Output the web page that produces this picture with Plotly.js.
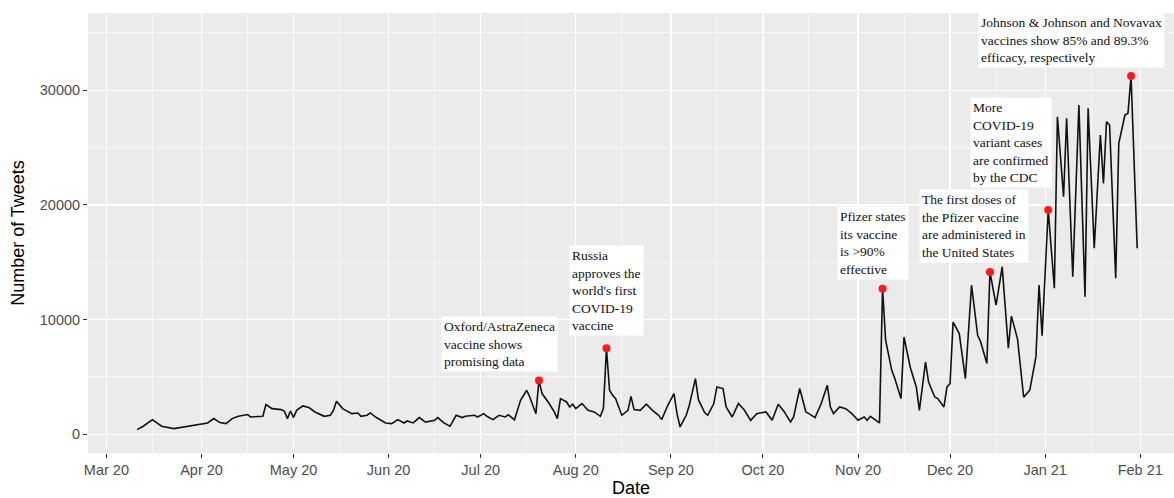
<!DOCTYPE html>
<html>
<head>
<meta charset="utf-8">
<script src="https://cdn.plot.ly/plotly-3.0.1.min.js"></script>
<style>html,body{margin:0;padding:0;background:#fff;}#chart{width:1174px;height:498px;}</style>
</head>
<body>
<div id="chart"></div>
<script>
const dates = [
'2020-03-11','2020-03-13','2020-03-16','2020-03-19','2020-03-23','2020-03-27','2020-03-31',
'2020-04-03','2020-04-05','2020-04-07','2020-04-09','2020-04-11','2020-04-13','2020-04-16','2020-04-17','2020-04-19','2020-04-21','2020-04-22','2020-04-24','2020-04-27','2020-04-28','2020-04-29','2020-04-30',
'2020-05-01','2020-05-02','2020-05-04','2020-05-06','2020-05-08','2020-05-11','2020-05-13','2020-05-14','2020-05-15','2020-05-17','2020-05-18','2020-05-20','2020-05-22','2020-05-23','2020-05-25','2020-05-26','2020-05-28','2020-05-31',
'2020-06-02','2020-06-04','2020-06-06','2020-06-07','2020-06-09','2020-06-11','2020-06-13','2020-06-16','2020-06-17','2020-06-19','2020-06-21','2020-06-23','2020-06-25','2020-06-26','2020-06-29','2020-06-30',
'2020-07-02','2020-07-03','2020-07-05','2020-07-07','2020-07-09','2020-07-10','2020-07-12','2020-07-14','2020-07-16','2020-07-17','2020-07-19','2020-07-20','2020-07-21','2020-07-23','2020-07-25','2020-07-26','2020-07-27','2020-07-29','2020-07-30','2020-07-31',
'2020-08-01','2020-08-03','2020-08-05','2020-08-07','2020-08-09','2020-08-10','2020-08-11','2020-08-12','2020-08-13','2020-08-14','2020-08-16','2020-08-18','2020-08-19','2020-08-20','2020-08-22','2020-08-24','2020-08-26','2020-08-28','2020-08-29','2020-08-31',
'2020-09-02','2020-09-03','2020-09-04','2020-09-06','2020-09-07','2020-09-09','2020-09-10','2020-09-12','2020-09-13','2020-09-15','2020-09-16','2020-09-18','2020-09-19','2020-09-21','2020-09-23','2020-09-25','2020-09-27','2020-09-29',
'2020-10-02','2020-10-04','2020-10-06','2020-10-08','2020-10-10','2020-10-11','2020-10-13','2020-10-15','2020-10-16','2020-10-18','2020-10-20','2020-10-22','2020-10-23','2020-10-24','2020-10-26','2020-10-28','2020-10-30',
'2020-11-01','2020-11-03','2020-11-04','2020-11-05','2020-11-07','2020-11-08','2020-11-09','2020-11-10','2020-11-12','2020-11-13','2020-11-15','2020-11-16','2020-11-18','2020-11-20','2020-11-21','2020-11-23','2020-11-24','2020-11-26','2020-11-27','2020-11-29','2020-11-30',
'2020-12-01','2020-12-02','2020-12-04','2020-12-06','2020-12-08','2020-12-10','2020-12-11','2020-12-13','2020-12-14','2020-12-16','2020-12-18','2020-12-20','2020-12-21','2020-12-23','2020-12-25','2020-12-27','2020-12-29','2020-12-30','2020-12-31',
'2021-01-02','2021-01-04','2021-01-05','2021-01-07','2021-01-08','2021-01-10','2021-01-12','2021-01-14','2021-01-15','2021-01-17','2021-01-19','2021-01-20','2021-01-21','2021-01-22','2021-01-24','2021-01-25','2021-01-27','2021-01-28','2021-01-29','2021-01-30','2021-01-31'
];
const tweets = [
410,700,1280,700,500,700,850,
990,1370,1020,930,1370,1570,1720,1510,1510,1570,2590,2240,2150,2030,1370,2030,
1460,2090,2470,2330,1950,1570,1660,2090,2880,2240,2090,1800,1860,1570,1660,1860,1460,990,
930,1280,990,1160,990,1460,1070,1220,1460,990,700,1660,1460,1570,1660,1510,
1800,1570,1280,1660,1510,1700,1250,2960,3840,3250,1800,4700,3550,2820,1950,1370,3110,2820,2380,2620,
2240,2680,2090,1950,1570,2240,7500,3840,3400,3110,1660,2090,3310,2150,2090,2620,2090,1660,1280,2530,
3550,1800,640,1660,2530,4860,3000,1900,1660,2680,4130,3990,2380,1510,2680,2090,1220,1800,
1950,1220,2620,1950,1070,1510,3990,1950,1800,1460,2680,4270,2380,1800,2380,2240,1800,
1220,1510,1220,1570,1220,990,12700,8200,5580,4860,3110,8480,5870,4130,2090,6300,4560,3250,3110,2380,4130,
4420,9790,8780,4860,13000,8630,8050,6170,14150,11270,14600,7500,10300,8300,3230,3860,6770,13020,8600,
19560,12730,27690,20720,27550,13740,28710,12000,28420,16220,26100,21880,27250,26960,13600,25370,27840,27990,31240,24000,16220
];
const eventDates = ['2020-07-20','2020-08-11','2020-11-09','2020-12-14','2021-01-02','2021-01-29'];
const eventLabels = [
'Oxford/AstraZeneca<br>vaccine shows<br>promising data',
'Russia<br>approves the<br>world\'s first<br>COVID-19<br>vaccine',
'Pfizer states<br>its vaccine<br>is &gt;90%<br>effective',
'The first doses of<br>the Pfizer vaccine<br>are administered in<br>the United States',
'More<br>COVID-19<br>variant cases<br>are confirmed<br>by the CDC',
'Johnson &amp; Johnson and Novavax<br>vaccines show 85% and 89.3%<br>efficacy, respectively'
];
const yTicks = [0, 10000, 20000, 30000];

const eventValues = eventDates.map(d => tweets[dates.indexOf(d)]);

// label box offsets (pixels) relative to each event point
const labelOffsets = [[-39, 8], [0, 12], [-10, 9], [-16, 9], [-37, 22], [-60, 8]];

const traces = [
  {x: dates, y: tweets, type: 'scatter', mode: 'lines', line: {color: '#111', width: 1.6}, hoverinfo: 'skip'},
  {x: eventDates, y: eventValues, type: 'scatter', mode: 'markers', marker: {color: '#ff1a1a', size: 8}, hoverinfo: 'skip'}
];

const annotations = eventDates.map((d, i) => ({
  x: d, y: eventValues[i], xref: 'x', yref: 'y', text: eventLabels[i], showarrow: false,
  xanchor: 'center', yanchor: 'bottom', xshift: labelOffsets[i][0], yshift: labelOffsets[i][1],
  align: 'left', bgcolor: '#ffffff', borderpad: 2,
  font: {family: 'Liberation Serif, Times New Roman, serif', size: 13.5, color: '#111'}
}));

const layout = {
  width: 1174, height: 498,
  margin: {l: 88, r: 0, t: 13, b: 45},
  paper_bgcolor: '#ffffff', plot_bgcolor: '#ebebeb',
  showlegend: false,
  font: {family: 'Liberation Sans, Arial, sans-serif'},
  xaxis: {
    type: 'date', range: ['2020-02-24', '2021-02-12'],
    tickmode: 'linear', tick0: '2020-03-01', dtick: 'M1', tickformat: '%b %y',
    ticks: 'outside', ticklen: 4, tickwidth: 1, tickcolor: '#333',
    tickfont: {size: 14.5, color: '#4d4d4d'},
    showgrid: true, gridcolor: '#ffffff', gridwidth: 1.3,
    minor: {tick0: '2020-02-16', dtick: 'M1', showgrid: true, gridcolor: '#ffffff', gridwidth: 0.6, ticks: ''},
    zeroline: false, showline: false,
    title: {text: 'Date', font: {size: 18, color: '#000'}, standoff: 6}
  },
  yaxis: {
    range: [-1630, 36730],
    tickmode: 'array', tickvals: yTicks, ticktext: yTicks.map(String),
    ticks: 'outside', ticklen: 4, tickwidth: 1, tickcolor: '#333',
    tickfont: {size: 14.5, color: '#4d4d4d'},
    showgrid: true, gridcolor: '#ffffff', gridwidth: 1.3,
    minor: {tickmode: 'linear', tick0: 5000, dtick: 10000, showgrid: true, gridcolor: '#ffffff', gridwidth: 0.6, ticks: ''},
    zeroline: false, showline: false,
    title: {text: 'Number of Tweets', font: {size: 18, color: '#000'}, standoff: 10}
  },
  annotations: annotations
};

Plotly.newPlot('chart', traces, layout, {staticPlot: true, displayModeBar: false});
</script>
</body>
</html>
